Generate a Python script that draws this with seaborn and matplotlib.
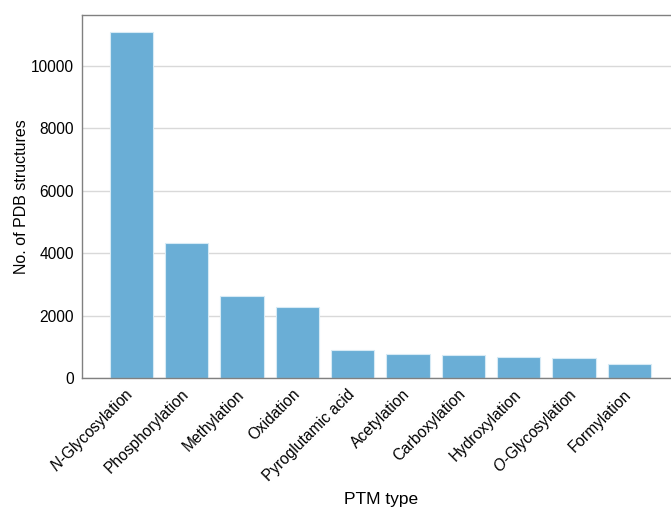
import matplotlib
matplotlib.use("Agg")
import matplotlib.pyplot as plt
import seaborn as sns
import pandas as pd

ptm_types = ["$\\it{N}$-Glycosylation", "Phosphorylation", "Methylation", "Oxidation",
             "Pyroglutamic acid", "Acetylation", "Carboxylation", "Hydroxylation",
             "$\\it{O}$-Glycosylation", "Formylation"]
n_structures = [11080, 4337, 2618, 2266, 888, 780, 727, 663, 641, 449]
y_ticks = [0, 2000, 4000, 6000, 8000, 10000]

sns.set_style("white")
plt.rcParams["font.family"] = ["Liberation Sans", "DejaVu Sans"]
plt.rcParams["mathtext.fontset"] = "custom"
plt.rcParams["mathtext.it"] = "Liberation Sans:italic"
plt.rcParams["mathtext.rm"] = "Liberation Sans"
plt.rcParams["text.color"] = "black"
plt.rcParams["axes.labelcolor"] = "black"
plt.rcParams["xtick.color"] = "black"
plt.rcParams["ytick.color"] = "black"

df = pd.DataFrame({"ptm": ptm_types, "count": n_structures})

fig = plt.figure(figsize=(6.71, 5.09), dpi=100)
ax = fig.add_axes([0.1222, 0.2574, 0.89, 0.7132])
ax.set_axisbelow(True)
ax.yaxis.grid(True, color="#d9d9d9", linewidth=1)

sns.barplot(data=df, x="ptm", y="count", color="#6aaed6", saturation=1,
            width=0.78, edgecolor="#d6eaf5", linewidth=0.8, ax=ax)

ax.set_xlim(-0.89, 9.9)
ax.set_ylim(0, 11635)
ax.set_yticks(y_ticks)
ax.set_yticklabels([str(t) for t in y_ticks], fontsize=11.2)
ax.set_xticks(range(len(ptm_types)))
ax.set_xticklabels(ptm_types, rotation=45, ha="right", va="center",
                   rotation_mode="anchor", fontsize=11.2)
ax.tick_params(axis="both", length=4, color="#808080", width=0.8, direction="out")
ax.tick_params(axis="x", pad=6)
ax.tick_params(axis="y", pad=2)

for side in ["left", "top", "bottom"]:
    ax.spines[side].set_color("#808080")
    ax.spines[side].set_linewidth(1)
ax.spines["right"].set_visible(False)

ax.set_xlabel("PTM type", fontsize=12.5, labelpad=6)
ax.set_ylabel("No. of PDB structures", fontsize=11.5, labelpad=1)

fig.savefig("out.png", dpi=100)
